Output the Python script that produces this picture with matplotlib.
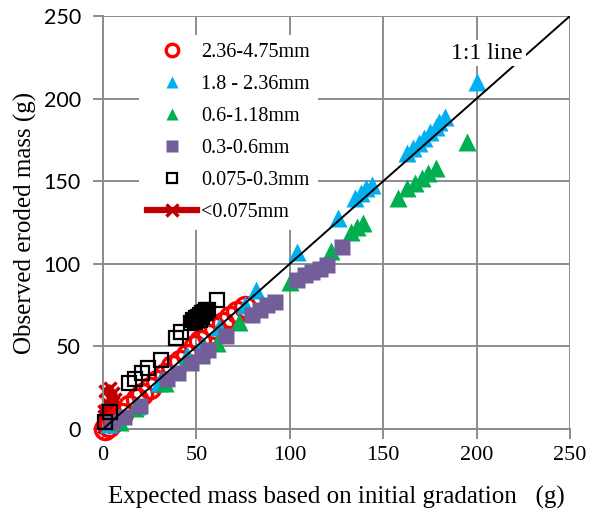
import matplotlib.pyplot as plt

# data (g)
fine_x = [0.3, 1.5, 0.5, 2.8, 4.0, 1.2, 3.5, 5.5, 6.5, 4.5, 2.2, 0.8, 3.0, 5.0, 1.8, 0.5]
fine_y = [3, 7, 11, 15, 19, 23, 25, 22, 18, 14, 12, 8, 5, 9, 2, 1]

coarse_x = [1, 3, 6, 10, 14, 18, 21, 25, 29, 33, 37, 41, 45, 49, 52, 56, 60, 64, 68, 72, 76]
coarse_y = [0, 2, 5, 9, 14, 18, 21, 25, 29, 33, 38, 41, 45, 50, 53, 57, 61, 64, 68, 71, 74]

blue_x = [3, 18, 30, 45, 53, 62, 76, 82, 104, 126, 135, 138, 141, 144, 163, 166, 169, 172, 175, 178, 180, 183, 200]
blue_y = [3, 14, 28, 45, 51, 62, 75, 84, 107, 128, 140, 143, 146, 148, 167, 170, 173, 176, 180, 183, 186, 189, 210]

green_x = [9, 17, 33, 45, 61, 73, 100, 122, 133, 136, 139, 158, 163, 167, 171, 174, 178, 195]
green_y = [4, 13, 28, 42, 52, 65, 89, 108, 119, 122, 125, 140, 146, 149, 152, 155, 158, 174]

purple_x = [5, 11, 20, 34, 40, 47, 53, 56, 66, 80, 84, 88, 92, 104, 108, 112, 116, 120, 128]
purple_y = [4, 7, 14, 30, 34, 40, 44, 48, 56, 69, 72, 75, 77, 90, 93, 95, 97, 99, 110]

black_x = [1, 4, 14, 17, 21, 24, 31, 39, 42, 47, 48, 49, 50, 51, 52, 52, 53, 53, 54, 55, 55, 56, 61]
black_y = [4, 10, 28, 30, 34, 37, 42, 55, 59, 64, 66, 65, 67, 68, 66, 69, 70, 68, 71, 70, 72, 72, 78]

ticks = [0, 50, 100, 150, 200, 250]

serif = 'Liberation Serif'
grey = '#8c8c8c'

fig = plt.figure(figsize=(5.9, 5.09), dpi=100)
ax = fig.add_axes([103/590, 1 - 429/509, 467/590, 413/509])

h_fine, = ax.plot(fine_x, fine_y, color='#c00000', lw=4.5, marker='x', ms=8, mew=2.5,
                  clip_on=False, zorder=2, label='<0.075mm')
h_coarse, = ax.plot(coarse_x, coarse_y, 'o', ms=14.5, mfc='none', mec='#ff0000', mew=2.4,
                    clip_on=False, zorder=3, label='2.36-4.75mm')
h_blue, = ax.plot(blue_x, blue_y, '^', ms=13, color='#00b0f0', mec='none',
                  clip_on=False, zorder=4, label='1.8 - 2.36mm')
h_green, = ax.plot(green_x, green_y, '^', ms=13, color='#00b050', mec='none',
                   clip_on=False, zorder=5, label='0.6-1.18mm')
h_purple, = ax.plot(purple_x, purple_y, 's', ms=12, color='#725f99', mec='none',
                    clip_on=False, zorder=6, label='0.3-0.6mm')
h_black, = ax.plot(black_x, black_y, 's', ms=9.5, mfc='none', mec='black', mew=1.6,
                   clip_on=False, zorder=7, label='0.075-0.3mm')

ax.plot([0, 250], [0, 250], color='black', lw=1.4, zorder=8)
ax.text(205.6, 227.6, '1:1 line', fontsize=17, family=serif, ha='center', va='center',
        zorder=9, bbox=dict(facecolor='white', edgecolor='none', pad=2))

ax.set_xlim(0, 250)
ax.set_ylim(0, 250)
ax.set_xticks(ticks)
ax.set_yticks(ticks)
ax.grid(True, color=grey, lw=1.4)
ax.set_axisbelow(True)
for s in ['top', 'right']:
    ax.spines[s].set_visible(False)
for s in ['left', 'bottom']:
    ax.spines[s].set_color(grey)
    ax.spines[s].set_linewidth(1.4)
ax.tick_params(direction='out', length=7, width=1.4, color=grey)
ax.tick_params(axis='x', pad=5)
ax.tick_params(axis='y', pad=9)
for t in ax.get_xticklabels():
    t.set_fontfamily(serif)
    t.set_fontsize(16)
for t in ax.get_yticklabels():
    t.set_fontfamily('Lato')
    t.set_fontsize(15.5)

ax.set_xlabel('Expected mass based on initial gradation   (g)', fontsize=18, family=serif, labelpad=15)
ax.set_ylabel('Observed eroded mass (g)', fontsize=18, family=serif, labelpad=5)

handles = [h_coarse, h_blue, h_green, h_purple, h_black, h_fine]
leg = ax.legend(handles=handles, loc='upper left', bbox_to_anchor=(0.0555, 0.978),
                prop={'family': serif, 'size': 14.5}, frameon=True, framealpha=1,
                edgecolor='none', fancybox=False, handlelength=2.5, handletextpad=0.2,
                labelspacing=0.64, borderpad=0.4)
leg.set_zorder(10)
for h, ms in zip(leg.legend_handles, [9, 9, 9, 8, 7.5, 8]):
    h.set_markersize(ms)

fig.savefig('out.png', dpi=100)
